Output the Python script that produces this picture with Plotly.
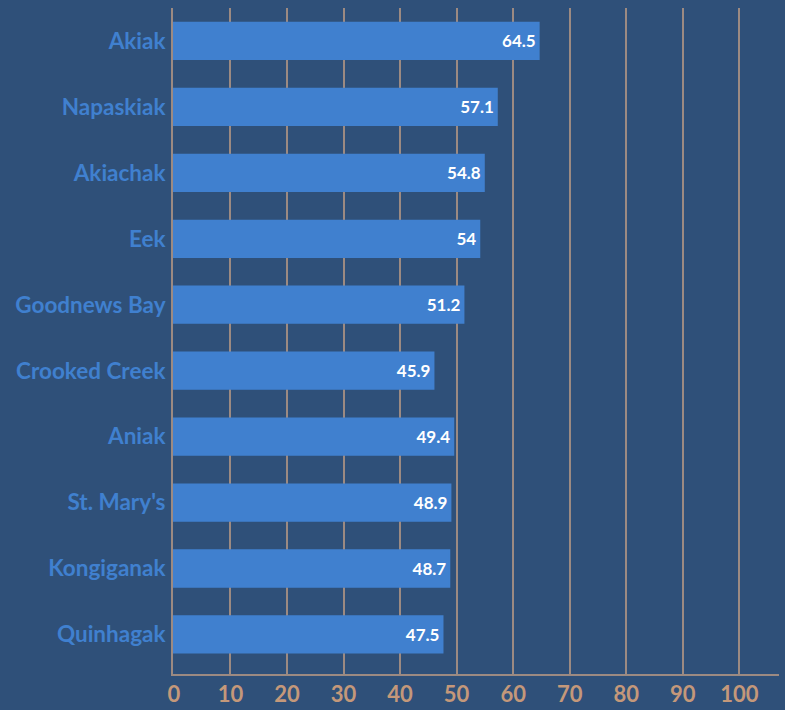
import plotly.graph_objects as go

categories = ["Akiak", "Napaskiak", "Akiachak", "Eek", "Goodnews Bay",
              "Crooked Creek", "Aniak", "St. Mary's", "Kongiganak", "Quinhagak"]
values = [64.5, 57.1, 54.8, 54, 51.2, 45.9, 49.4, 48.9, 48.7, 47.5]
labels = ["64.5", "57.1", "54.8", "54", "51.2", "45.9", "49.4", "48.9", "48.7", "47.5"]
x_ticks = [0, 10, 20, 30, 40, 50, 60, 70, 80, 90, 100]

BG = "#2f5079"
BAR = "#4080cf"
GRID = "#9c8a82"
TICK = "#c4987a"

fig = go.Figure(go.Bar(
    y=categories, x=values, orientation="h",
    marker=dict(color=BAR, line=dict(width=2, color=BAR)),
    text=labels, textposition="inside", insidetextanchor="end",
    textfont=dict(family="Lato", size=17, color="white", weight="bold"),
    width=0.55,
))

fig.update_layout(
    width=785, height=710,
    paper_bgcolor=BG, plot_bgcolor=BG,
    margin=dict(l=173, r=6, t=8, b=36),
    showlegend=False,
    font=dict(family="Lato"),
)
fig.update_xaxes(
    range=[-0.15, 107], tickvals=x_ticks, showgrid=True, gridcolor=GRID, gridwidth=1.5,
    showline=True, linecolor=GRID, linewidth=2, zeroline=False,
    tickfont=dict(family="Lato", size=22, color=TICK, weight="bold"),
    ticks="", ticklabelstandoff=0, automargin=False,
)
fig.update_yaxes(
    categoryorder="array", categoryarray=categories,
    range=[9.6, -0.5], showgrid=False, showline=True, linecolor=GRID, linewidth=2,
    tickfont=dict(family="Lato", size=22.5, color=BAR, weight="bold"),
    ticks="", ticklabelstandoff=1, automargin=False,
)

fig.write_html("out.html", config={"displayModeBar": False},
               post_script="document.body.style.margin='0';document.body.style.background='" + BG + "';")
